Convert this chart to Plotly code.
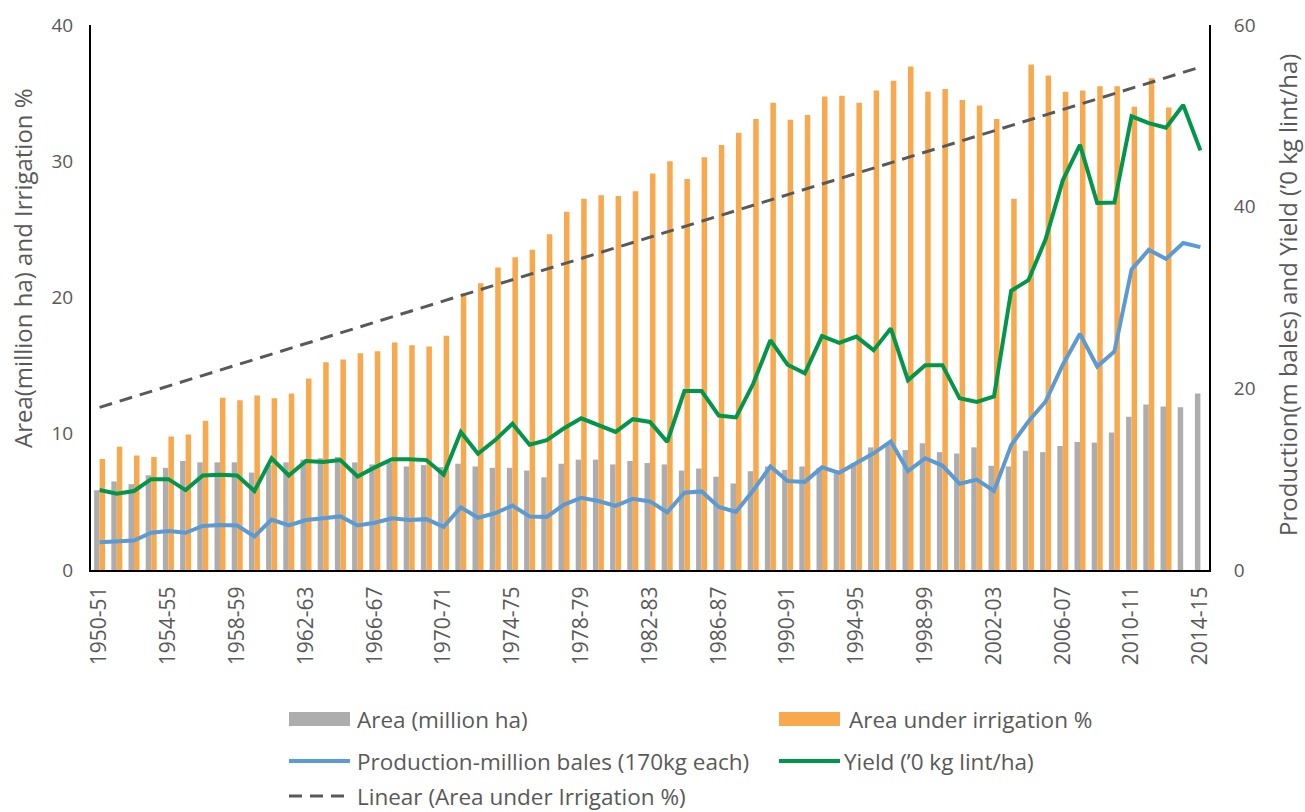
import numpy as np
import plotly.graph_objects as go

seasons = [
    "1950-51", "1951-52", "1952-53", "1953-54", "1954-55", "1955-56", "1956-57", "1957-58",
    "1958-59", "1959-60", "1960-61", "1961-62", "1962-63", "1963-64", "1964-65", "1965-66",
    "1966-67", "1967-68", "1968-69", "1969-70", "1970-71", "1971-72", "1972-73", "1973-74",
    "1974-75", "1975-76", "1976-77", "1977-78", "1978-79", "1979-80", "1980-81", "1981-82",
    "1982-83", "1983-84", "1984-85", "1985-86", "1986-87", "1987-88", "1988-89", "1989-90",
    "1990-91", "1991-92", "1992-93", "1993-94", "1994-95", "1995-96", "1996-97", "1997-98",
    "1998-99", "1999-00", "2000-01", "2001-02", "2002-03", "2003-04", "2004-05", "2005-06",
    "2006-07", "2007-08", "2008-09", "2009-10", "2010-11", "2011-12", "2012-13", "2013-14",
    "2014-15",
]

tick_seasons = [
    "1950-51", "1954-55", "1958-59", "1962-63", "1966-67", "1970-71", "1974-75", "1978-79",
    "1982-83", "1986-87", "1990-91", "1994-95", "1998-99", "2002-03", "2006-07", "2010-11",
    "2014-15",
]

# Area under cotton (million ha)
area_mha = [
    5.85, 6.50, 6.30, 6.95, 7.50, 8.00, 7.90, 7.90, 7.90, 7.15,
    7.70, 7.90, 8.10, 8.20, 8.30, 7.90, 7.75, 7.90, 7.60, 7.70,
    7.55, 7.80, 7.60, 7.50, 7.50, 7.30, 6.80, 7.80, 8.10, 8.10,
    7.75, 8.00, 7.85, 7.75, 7.30, 7.45, 6.85, 6.35, 7.25, 7.60,
    7.35, 7.60, 7.50, 7.30, 7.85, 9.00, 9.20, 8.80, 9.30, 8.65,
    8.55, 9.00, 7.65, 7.60, 8.75, 8.65, 9.10, 9.40, 9.35, 10.10,
    11.25, 12.15, 12.00, 11.95, 12.95,
]

# Share of cotton area under irrigation (%)
irrigation_pct = [
    8.15, 9.05, 8.40, 8.30, 9.80, 9.95, 10.95, 12.65, 12.45, 12.80,
    12.60, 12.95, 14.05, 15.25, 15.45, 15.90, 16.05, 16.70, 16.50, 16.40,
    17.20, 20.30, 21.05, 22.20, 22.95, 23.50, 24.65, 26.30, 27.25, 27.50,
    27.45, 27.80, 29.10, 30.00, 28.70, 30.30, 31.20, 32.10, 33.10, 34.30,
    33.05, 33.40, 34.75, 34.80, 34.30, 35.20, 35.90, 36.95, 35.10, 35.30,
    34.50, 34.10, 33.10, 27.25, 37.10, 36.30, 35.10, 35.20, 35.50, 35.50,
    34.00, 36.10, 33.95, None, None,
]

# Production (million bales of 170 kg)
production_mbales = [
    3.05, 3.20, 3.25, 4.10, 4.30, 4.10, 4.85, 4.95, 4.90, 3.70,
    5.55, 4.90, 5.50, 5.70, 5.90, 4.90, 5.20, 5.70, 5.50, 5.60,
    4.75, 6.90, 5.75, 6.25, 7.10, 5.90, 5.85, 7.20, 7.95, 7.60,
    7.05, 7.85, 7.55, 6.35, 8.50, 8.65, 6.95, 6.40, 8.75, 11.40,
    9.80, 9.70, 11.30, 10.70, 11.80, 12.85, 14.15, 10.90, 12.30, 11.50,
    9.50, 9.95, 8.70, 13.75, 16.35, 18.55, 22.60, 26.00, 22.40, 24.05,
    33.10, 35.25, 34.25, 36.00, 35.55,
]

# Lint yield ('0 kg lint/ha)
yield_10kg = [
    8.80, 8.40, 8.70, 10.00, 10.00, 8.80, 10.40, 10.50, 10.40, 8.70,
    12.30, 10.40, 12.00, 11.90, 12.10, 10.30, 11.30, 12.20, 12.20, 12.10,
    10.50, 15.20, 12.80, 14.30, 16.10, 13.80, 14.30, 15.60, 16.70, 16.00,
    15.20, 16.60, 16.30, 14.10, 19.70, 19.70, 17.00, 16.80, 20.50, 25.30,
    22.60, 21.65, 25.75, 25.00, 25.70, 24.20, 26.60, 20.90, 22.55, 22.55,
    18.90, 18.50, 19.10, 30.75, 31.90, 36.40, 42.90, 46.80, 40.40, 40.45,
    49.95, 49.20, 48.70, 51.20, 46.20,
]

GRAY = "#ADADAD"
ORANGE = "#F9A94D"
BLUE = "#5B9BD5"
GREEN = "#00964B"
TREND = "#595959"
TEXT = "#595959"
FONT = "Open Sans"

# Linear trend of the irrigation share over the season index
# (seasons without a value count as zero, as in the spreadsheet trendline)
idx = np.arange(len(seasons))
irr = np.array([0.0 if v is None else v for v in irrigation_pct], dtype=float)
slope, intercept = np.polyfit(idx, irr, 1)
trend = intercept + slope * idx

W, H = 1305, 812
ML, MR, MT, MB = 91, 96, 25, 242
PW, PH = W - ML - MR, H - MT - MB


def px(x):
    return (x - ML) / PW


def py(y):
    return (H - MB - y) / PH


fig = go.Figure()
fig.add_trace(go.Bar(x=seasons, y=area_mha, name="Area (million ha)",
                     marker=dict(color=GRAY, line=dict(width=0)), yaxis="y"))
fig.add_trace(go.Bar(x=seasons, y=irrigation_pct, name="Area under irrigation %",
                     marker=dict(color=ORANGE, line=dict(width=0)), yaxis="y"))
fig.add_trace(go.Scatter(x=seasons, y=trend, mode="lines",
                         name="Linear (Area under Irrigation %)",
                         line=dict(color=TREND, width=3, dash="13px,8px"), yaxis="y"))
fig.add_trace(go.Scatter(x=seasons, y=production_mbales, mode="lines",
                         name="Production-million bales (170kg each)",
                         line=dict(color=BLUE, width=4), yaxis="y2"))
fig.add_trace(go.Scatter(x=seasons, y=yield_10kg, mode="lines",
                         name="Yield ('0 kg lint/ha)",
                         line=dict(color=GREEN, width=4), yaxis="y2"))

# Legend drawn as swatches and labels beneath the plot
shapes = []
annotations = []
legend_rows = [
    ("rect", GRAY, 289, 350, 719, "Area (million ha)", 355),
    ("rect", ORANGE, 779, 840, 719, "Area under irrigation %", 847),
    ("line", BLUE, 289, 350, 761, "Production-million bales (170kg each)", 355),
    ("line", GREEN, 779, 840, 761, "Yield (’0 kg lint/ha)", 842),
    ("dash", TREND, 289, 350, 796, "Linear (Area under Irrigation %)", 355),
]
for kind, color, x0, x1, yc, label, tx in legend_rows:
    if kind == "rect":
        shapes.append(dict(type="rect", xref="paper", yref="paper",
                           x0=px(x0), x1=px(x1), y0=py(yc + 7), y1=py(yc - 7),
                           fillcolor=color, line=dict(width=0)))
    else:
        shapes.append(dict(type="line", xref="paper", yref="paper",
                           x0=px(x0), x1=px(x1), y0=py(yc), y1=py(yc),
                           line=dict(color=color, width=4 if kind == "line" else 3,
                                     dash="solid" if kind == "line" else "13px,8px")))
    annotations.append(dict(xref="paper", yref="paper", x=px(tx), y=py(yc),
                            text=label, showarrow=False, xanchor="left", yanchor="middle",
                            font=dict(family=FONT, size=22.5, color=TEXT)))

# Axis titles
annotations.append(dict(xref="paper", yref="paper", x=px(22), y=py(268),
                        text="Area(million ha) and Irrigation %", textangle=-90,
                        showarrow=False, xanchor="center", yanchor="middle",
                        font=dict(family=FONT, size=24, color=TEXT)))
annotations.append(dict(xref="paper", yref="paper", x=px(1287), y=py(295),
                        text="Production(m bales) and Yield (’0 kg lint/ha)", textangle=-90,
                        showarrow=False, xanchor="center", yanchor="middle",
                        font=dict(family=FONT, size=24, color=TEXT)))

fig.update_layout(
    width=W, height=H,
    margin=dict(l=ML, r=MR, t=MT, b=MB, autoexpand=False),
    paper_bgcolor="white", plot_bgcolor="white",
    barmode="group", bargap=0.36, bargroupgap=0,
    showlegend=False,
    font=dict(family=FONT, size=18, color=TEXT),
    xaxis=dict(
        type="category", tickmode="array", tickvals=tick_seasons, ticktext=tick_seasons,
        tickangle=-90, ticks="", showgrid=False, zeroline=False,
        showline=True, linecolor="#000000", linewidth=2,
        tickfont=dict(family=FONT, size=21, color=TEXT), ticklabelstandoff=6,
        automargin=False,
    ),
    yaxis=dict(
        range=[0, 40], tickvals=[0, 10, 20, 30, 40], ticks="", showgrid=False,
        zeroline=False, showline=True, linecolor="#000000", linewidth=2,
        tickfont=dict(family=FONT, size=19, color=TEXT), ticklabelstandoff=12,
        automargin=False,
    ),
    yaxis2=dict(
        range=[0, 60], tickvals=[0, 20, 40, 60], overlaying="y", side="right",
        ticks="", showgrid=False, zeroline=False, showline=True,
        linecolor="#000000", linewidth=2,
        tickfont=dict(family=FONT, size=19, color=TEXT), ticklabelstandoff=19,
        automargin=False,
    ),
    shapes=shapes,
    annotations=annotations,
)

fig.write_html("out.html")
